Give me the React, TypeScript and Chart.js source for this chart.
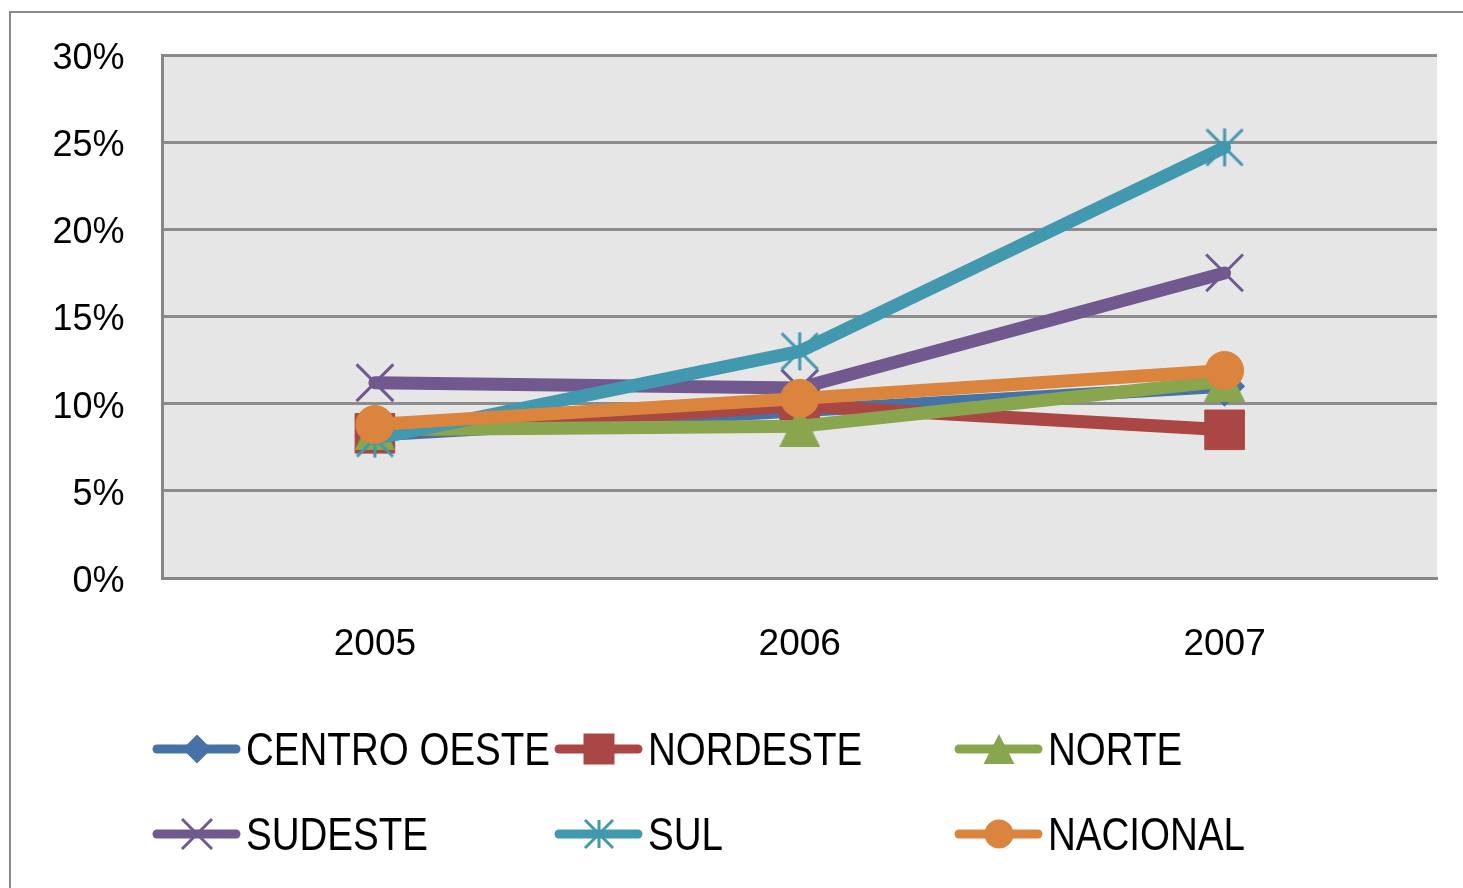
import React, { useEffect, useRef } from "react";
import { Chart, registerables } from "chart.js";

Chart.register(...registerables);

const categories = ["2005", "2006", "2007"];
const seriesNames = ["CENTRO OESTE", "NORDESTE", "NORTE", "SUDESTE", "SUL", "NACIONAL"];
const centroOeste = [8.2, 9.6, 11.0];
const nordeste = [8.3, 9.9, 8.5];
const norte = [8.5, 8.7, 11.3];
const sudeste = [11.2, 10.9, 17.5];
const sul = [8.0, 13.0, 24.7];
const nacional = [8.8, 10.3, 11.9];
const yTickValues = [0, 5, 10, 15, 20, 25, 30];

const seriesValues = [centroOeste, nordeste, norte, sudeste, sul, nacional];
const seriesColors = ["#4572A7", "#AA4643", "#89A54E", "#71588F", "#4198AF", "#DB843D"];
const markerKinds = ["diamond", "square", "triangle", "x", "asterisk", "circle"];

function makeTriangle(color: string, w: number, h: number) {
  const c = document.createElement("canvas");
  c.width = w;
  c.height = h;
  const ctx = c.getContext("2d")!;
  ctx.fillStyle = color;
  ctx.beginPath();
  ctx.moveTo(w / 2, 0);
  ctx.lineTo(w, h);
  ctx.lineTo(0, h);
  ctx.closePath();
  ctx.fill();
  return c;
}

function makeAsterisk(color: string, s: number) {
  const c = document.createElement("canvas");
  c.width = s;
  c.height = s;
  const ctx = c.getContext("2d")!;
  ctx.strokeStyle = color;
  ctx.lineWidth = 3;
  ctx.beginPath();
  ctx.moveTo(s / 2, 1);
  ctx.lineTo(s / 2, s - 1);
  ctx.moveTo(2, 2);
  ctx.lineTo(s - 2, s - 2);
  ctx.moveTo(s - 2, 2);
  ctx.lineTo(2, s - 2);
  ctx.stroke();
  return c;
}

function drawLegendMarker(ctx: CanvasRenderingContext2D, kind: string, x: number, y: number, color: string) {
  ctx.save();
  ctx.fillStyle = color;
  ctx.strokeStyle = color;
  ctx.lineWidth = 3;
  ctx.beginPath();
  if (kind === "diamond") {
    const r = 14.5;
    ctx.moveTo(x, y - r);
    ctx.lineTo(x + r, y);
    ctx.lineTo(x, y + r);
    ctx.lineTo(x - r, y);
    ctx.closePath();
    ctx.fill();
  } else if (kind === "square") {
    ctx.rect(x - 15.5, y - 15.5, 31, 31);
    ctx.fill();
  } else if (kind === "triangle") {
    ctx.moveTo(x, y - 15);
    ctx.lineTo(x + 15.5, y + 15);
    ctx.lineTo(x - 15.5, y + 15);
    ctx.closePath();
    ctx.fill();
  } else if (kind === "circle") {
    ctx.arc(x, y, 14.5, 0, Math.PI * 2);
    ctx.fill();
  } else if (kind === "x") {
    const r = 15;
    ctx.moveTo(x - r, y - r);
    ctx.lineTo(x + r, y + r);
    ctx.moveTo(x + r, y - r);
    ctx.lineTo(x - r, y + r);
    ctx.stroke();
  } else if (kind === "asterisk") {
    const r = 14;
    ctx.moveTo(x, y - r);
    ctx.lineTo(x, y + r);
    ctx.moveTo(x - r, y - r);
    ctx.lineTo(x + r, y + r);
    ctx.moveTo(x + r, y - r);
    ctx.lineTo(x - r, y + r);
    ctx.stroke();
  }
  ctx.restore();
}

const frameAndBackground = {
  id: "frameAndBackground",
  beforeDraw(chart: any) {
    const { ctx, chartArea } = chart;
    ctx.save();
    ctx.fillStyle = "#ffffff";
    ctx.fillRect(0, 0, chart.width, chart.height);
    ctx.strokeStyle = "#8a8a8a";
    ctx.lineWidth = 2;
    ctx.strokeRect(10, 12, chart.width + 20, chart.height + 20);
    ctx.fillStyle = "#e6e6e6";
    ctx.fillRect(chartArea.left, chartArea.top, chartArea.right - chartArea.left, chartArea.bottom - chartArea.top);
    ctx.restore();
  },
};

const customLegend = {
  id: "customLegend",
  afterDraw(chart: any) {
    const ctx: CanvasRenderingContext2D = chart.ctx;
    const colX = [153, 555, 955];
    const rowY = [749, 834];
    const baseY = [765, 850];
    chart.data.datasets.forEach((ds: any, i: number) => {
      const col = i % 3;
      const row = Math.floor(i / 3);
      const x0 = colX[col];
      const y = rowY[row];
      ctx.save();
      ctx.strokeStyle = ds.borderColor;
      ctx.lineWidth = 9;
      ctx.lineCap = "round";
      ctx.beginPath();
      ctx.moveTo(x0 + 4, y);
      ctx.lineTo(x0 + 83, y);
      ctx.stroke();
      ctx.restore();
      drawLegendMarker(ctx, markerKinds[i], x0 + 44, y, ds.borderColor);
      ctx.save();
      ctx.fillStyle = "#000000";
      ctx.font = "47px 'Liberation Sans', Arial, sans-serif";
      ctx.textBaseline = "alphabetic";
      ctx.textAlign = "left";
      ctx.translate(x0 + 93, baseY[row]);
      ctx.scale(0.82, 1);
      ctx.fillText(ds.label, 0, 0);
      ctx.restore();
    });
  },
};

export default function App() {
  const canvasRef = useRef<HTMLCanvasElement | null>(null);

  useEffect(() => {
    if (!canvasRef.current) return;
    const pointStyles: any[] = [
      "rectRot",
      "rect",
      makeTriangle(seriesColors[2], 41, 41),
      "crossRot",
      makeAsterisk(seriesColors[4], 40),
      "circle",
    ];
    const radii = [20, 28, 20, 26, 20, 19];
    const pointBorderWidths = [1, 1, 1, 3, 1, 1];

    const datasets = seriesNames.map((name, i) => ({
      label: name,
      data: seriesValues[i],
      borderColor: seriesColors[i],
      backgroundColor: seriesColors[i],
      pointBackgroundColor: seriesColors[i],
      pointBorderColor: seriesColors[i],
      pointStyle: pointStyles[i],
      pointRadius: radii[i],
      pointHoverRadius: radii[i],
      pointBorderWidth: pointBorderWidths[i],
      borderWidth: 13,
      borderJoinStyle: "round" as const,
      borderCapStyle: "round" as const,
      tension: 0,
      order: seriesNames.length - i,
    }));

    const chart = new Chart(canvasRef.current, {
      type: "line",
      data: { labels: categories, datasets },
      options: {
        responsive: false,
        animation: false,
        layout: { autoPadding: false, padding: { left: 0, top: 55, right: 26, bottom: 210 } },
        plugins: {
          legend: { display: false },
          tooltip: { enabled: false },
        },
        scales: {
          x: {
            offset: true,
            grid: { display: false },
            border: { display: true, color: "#878787", width: 3 },
            ticks: {
              color: "#000000",
              padding: 37,
              font: { family: "'Liberation Sans', Arial, sans-serif", size: 37 },
            },
            afterFit: (scale: any) => {
              scale.height = 100;
            },
          },
          y: {
            min: 0,
            max: 30,
            afterBuildTicks: (scale: any) => {
              scale.ticks = yTickValues.map((v) => ({ value: v }));
            },
            grid: {
              color: "#8c8c8c",
              lineWidth: 3,
              drawTicks: true,
              tickLength: 38,
              tickColor: "rgba(0,0,0,0)",
            },
            border: { display: true, color: "#878787", width: 3 },
            ticks: {
              color: "#000000",
              padding: 0,
              labelOffset: 4,
              callback: (v: any) => `${v}%`,
              font: { family: "'Liberation Sans', Arial, sans-serif", size: 36 },
            },
            afterFit: (scale: any) => {
              scale.width = 162.5;
            },
          },
        },
      },
      plugins: [frameAndBackground, customLegend],
    });
    return () => chart.destroy();
  }, []);

  return (
    <div style={{ position: "fixed", left: 0, top: 0, width: 1463, height: 888, background: "#fff" }}>
      <canvas ref={canvasRef} width={1463} height={888} style={{ width: 1463, height: 888, display: "block" }} />
    </div>
  );
}
